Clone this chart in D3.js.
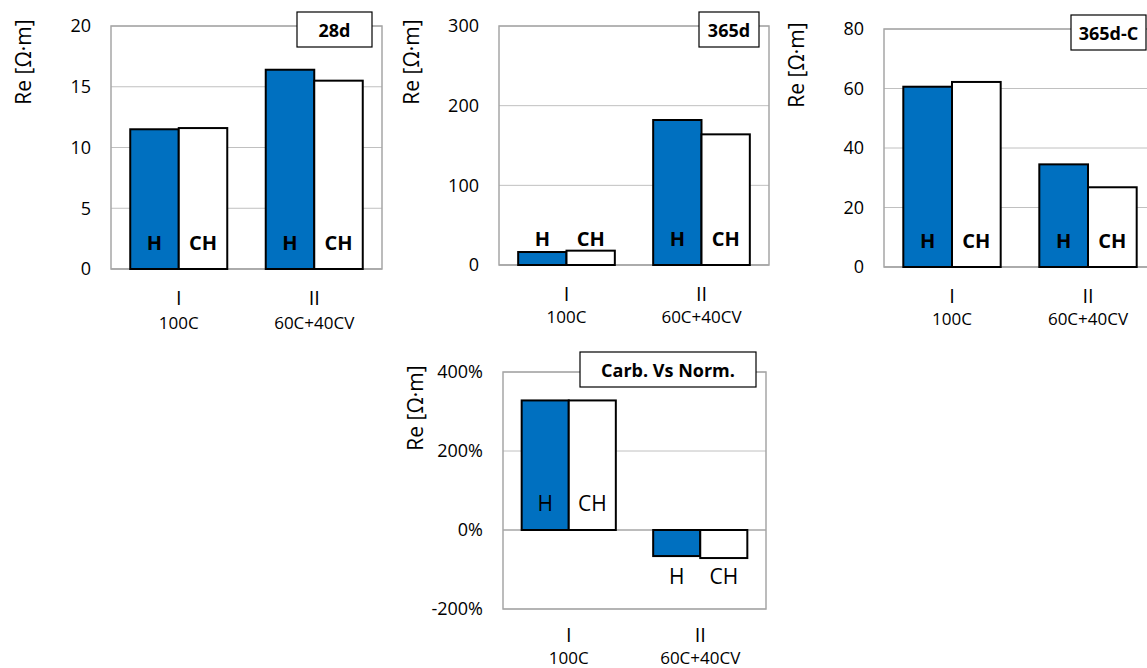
<!DOCTYPE html>
<html>
<head>
<meta charset="utf-8">
<script src="https://cdn.jsdelivr.net/npm/d3@7"></script>
<style>
  body { margin: 0; background: #fff; }
  svg { display: block; font-family: "Open Sans", sans-serif; }
</style>
</head>
<body>
<div id="chart"></div>
<script>
// Categories and series
const categories = ["I", "II"];
const mixLabels = ["100C", "60C+40CV"];
const seriesNames = ["H", "CH"];

// Re values per panel
const re28dH = [11.5, 16.4];
const re28dCH = [11.6, 15.5];
const re365dH = [16.3, 182];
const re365dCH = [18, 164];
const re365dCarbH = [60.6, 34.5];
const re365dCarbCH = [62.2, 26.8];
const ratioH = [3.28, -0.66];
const ratioCH = [3.28, -0.71];

// Tick values and titles
const ticks28d = [0, 5, 10, 15, 20];
const ticks365d = [0, 100, 200, 300];
const ticks365dC = [0, 20, 40, 60, 80];
const ticksRatio = [-2, 0, 2, 4];
const panelTitles = ["28d", "365d", "365d-C", "Carb. Vs Norm."];

const blue = "#0070c0";

const svg = d3.select("#chart")
    .append("svg")
    .attr("width", 1147)
    .attr("height", 668);

// plain hyphen for negatives, like the original
const pct = d => Math.round(d * 100) + "%";

// layout of the four panels
const panels = [
    { left: 111, right: 382, top: 26, bottom: 269, ticks: ticks28d, H: re28dH, CH: re28dCH,
      title: panelTitles[0], boxW: 75, boxDy: 14, bold: true, fmt: d3.format("d"), catDy: 28, mixDy: 53 },
    { left: 499, right: 769, top: 26, bottom: 265, ticks: ticks365d, H: re365dH, CH: re365dCH,
      title: panelTitles[1], boxW: 60, boxDy: 14, bold: true, fmt: d3.format("d"), catDy: 28, mixDy: 51 },
    { left: 884, right: 1156, top: 29, bottom: 267, ticks: ticks365dC, H: re365dCarbH, CH: re365dCarbCH,
      title: panelTitles[2], boxW: 75, boxDy: 14, bold: true, fmt: d3.format("d"), catDy: 28, mixDy: 51 },
    { left: 503, right: 766, top: 372, bottom: 609, ticks: ticksRatio, H: ratioH, CH: ratioCH,
      title: panelTitles[3], boxW: 176, boxDy: 20, bold: false, fmt: pct, catDy: 25, mixDy: 48 }
];

panels.forEach(p => {
    const y = d3.scaleLinear()
        .domain(d3.extent(p.ticks))
        .range([p.bottom, p.top]);

    const x = d3.scaleBand()
        .domain(categories)
        .range([p.left, p.right])
        .paddingInner(0.284)
        .paddingOuter(0.142);

    const xs = d3.scaleBand()
        .domain(seriesNames)
        .range([0, x.bandwidth()]);

    const g = svg.append("g");

    // gridlines
    g.selectAll(".grid")
        .data(p.ticks)
        .join("line")
        .attr("x1", p.left).attr("x2", p.right)
        .attr("y1", d => y(d)).attr("y2", d => y(d))
        .attr("stroke", d => d === 0 ? "#a6a6a6" : "#c0c0c0")
        .attr("stroke-width", d => d === 0 ? 1.5 : 1);

    // plot frame
    g.append("rect")
        .attr("x", p.left).attr("y", p.top)
        .attr("width", p.right - p.left).attr("height", p.bottom - p.top)
        .attr("fill", "none")
        .attr("stroke", "#a6a6a6")
        .attr("stroke-width", 1.5);

    // y axis labels
    const ax = g.append("g")
        .attr("transform", `translate(${p.left},0)`)
        .call(d3.axisLeft(y).tickValues(p.ticks).tickSize(0).tickPadding(20).tickFormat(p.fmt));
    ax.select(".domain").remove();
    ax.selectAll("text")
        .attr("font-family", "Open Sans, sans-serif")
        .attr("font-size", 18)
        .attr("fill", "#000");

    // y title
    g.append("text")
        .attr("transform", `translate(${p.left - 88},${p.top + 36}) rotate(-90)`)
        .attr("text-anchor", "middle")
        .attr("dominant-baseline", "central")
        .attr("font-size", 21)
        .text("Re [Ω·m]");

    // bars
    const rows = categories.map((c, i) => ({ cat: c, vals: [
        { s: "H", v: p.H[i] }, { s: "CH", v: p.CH[i] }
    ] }));

    const grp = g.selectAll(".grp")
        .data(rows)
        .join("g")
        .attr("transform", d => `translate(${x(d.cat)},0)`);

    grp.selectAll("rect")
        .data(d => d.vals)
        .join("rect")
        .attr("x", d => xs(d.s))
        .attr("width", xs.bandwidth())
        .attr("y", d => y(Math.max(0, d.v)))
        .attr("height", d => Math.abs(y(d.v) - y(0)))
        .attr("fill", d => d.s === "H" ? blue : "#fff")
        .attr("stroke", "#000")
        .attr("stroke-width", 2);

    // series labels
    grp.selectAll(".lbl")
        .data(d => d.vals)
        .join("text")
        .attr("x", d => xs(d.s) + xs.bandwidth() / 2)
        .attr("y", d => d.v >= 0 ? y(0) - 27 : y(0) + 46)
        .attr("text-anchor", "middle")
        .attr("dominant-baseline", "central")
        .attr("font-size", p.bold ? 20 : 21)
        .attr("font-weight", p.bold ? "bold" : "normal")
        .text(d => d.s);

    // category labels
    g.selectAll(".cat")
        .data(categories)
        .join("text")
        .attr("x", d => x(d) + x.bandwidth() / 2)
        .attr("y", p.bottom + p.catDy)
        .attr("text-anchor", "middle")
        .attr("dominant-baseline", "central")
        .attr("font-size", 20)
        .text(d => d);

    g.selectAll(".mix")
        .data(mixLabels)
        .join("text")
        .attr("x", (d, i) => x(categories[i]) + x.bandwidth() / 2)
        .attr("y", p.bottom + p.mixDy)
        .attr("text-anchor", "middle")
        .attr("dominant-baseline", "central")
        .attr("font-size", 17)
        .text(d => d);

    // title box
    const bx = p.right - 10 - p.boxW;
    const by = p.top - p.boxDy;
    g.append("rect")
        .attr("x", bx).attr("y", by)
        .attr("width", p.boxW).attr("height", 35)
        .attr("fill", "#fff")
        .attr("stroke", "#000")
        .attr("stroke-width", 1.2);
    g.append("text")
        .attr("x", bx + p.boxW / 2)
        .attr("y", by + 17.5)
        .attr("text-anchor", "middle")
        .attr("dominant-baseline", "central")
        .attr("font-size", 18)
        .attr("font-weight", "bold")
        .text(p.title);
});
</script>
</body>
</html>
